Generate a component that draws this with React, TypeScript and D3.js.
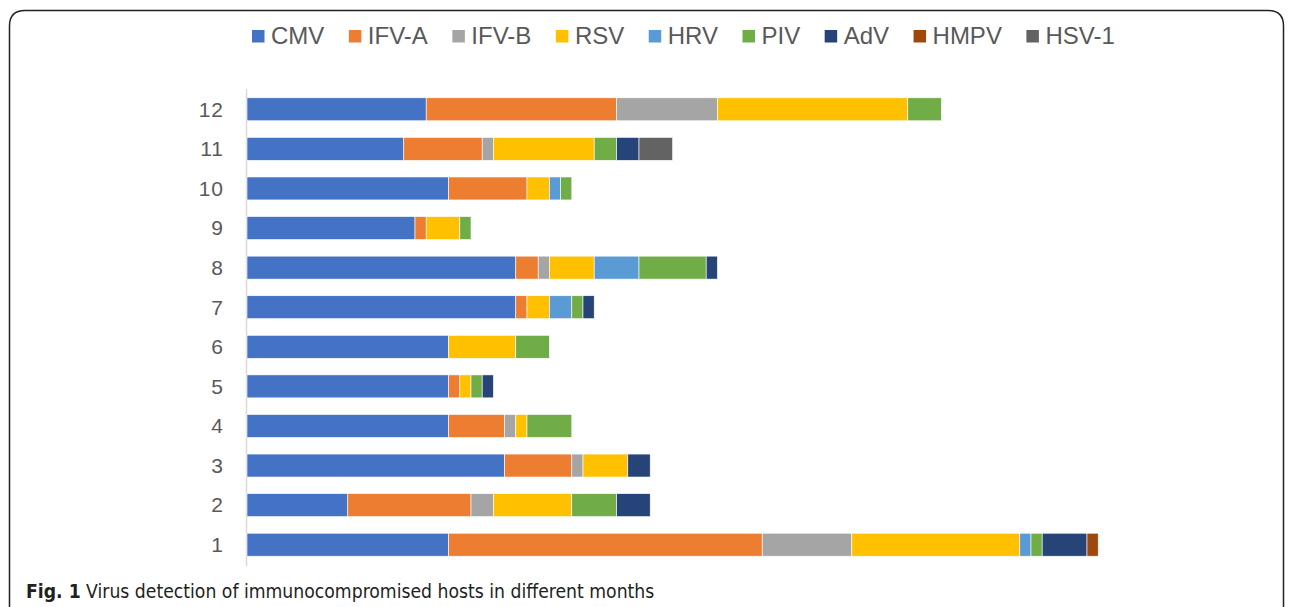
import React, { useEffect, useRef } from 'react';
import * as d3 from 'd3';

// months, bottom to top
const months = ['1', '2', '3', '4', '5', '6', '7', '8', '9', '10', '11', '12'];
const viruses = ['CMV', 'IFV-A', 'IFV-B', 'RSV', 'HRV', 'PIV', 'AdV', 'HMPV', 'HSV-1'];
const colors = ['#4472c4', '#ed7d31', '#a5a5a5', '#ffc000', '#5b9bd5', '#70ad47', '#264478', '#9e480e', '#636363'];

// counts per month, one array per virus
const CMV = [18, 9, 23, 18, 18, 18, 24, 24, 15, 18, 14, 16];
const IFVA = [28, 11, 6, 5, 1, 0, 1, 2, 1, 7, 7, 17];
const IFVB = [8, 2, 1, 1, 0, 0, 0, 1, 0, 0, 1, 9];
const RSV = [15, 7, 4, 1, 1, 6, 2, 4, 3, 2, 9, 17];
const HRV = [1, 0, 0, 0, 0, 0, 2, 4, 0, 1, 0, 0];
const PIV = [1, 4, 0, 4, 1, 3, 1, 6, 1, 1, 2, 3];
const AdV = [4, 3, 2, 0, 1, 0, 1, 1, 0, 0, 2, 0];
const HMPV = [1, 0, 0, 0, 0, 0, 0, 0, 0, 0, 0, 0];
const HSV1 = [0, 0, 0, 0, 0, 0, 0, 0, 0, 0, 3, 0];

const series = [CMV, IFVA, IFVB, RSV, HRV, PIV, AdV, HMPV, HSV1];

const W = 1292;
const H = 607;

export default function App() {
  const ref = useRef<SVGSVGElement>(null);

  useEffect(() => {
    const svg = d3.select(ref.current);
    svg.selectAll('*').remove();

    // frame with rounded top corners
    svg.append('path')
      .attr('d', 'M9.5,620 L9.5,26 Q9.5,10.5 25,10.5 L1268,10.5 Q1283.5,10.5 1283.5,26 L1283.5,620')
      .attr('fill', 'none')
      .attr('stroke', '#222')
      .attr('stroke-width', 1.5);

    const rows = months.map((m, i) => {
      const r: any = { month: m };
      viruses.forEach((v, j) => { r[v] = series[j][i]; });
      return r;
    });

    const stacked = d3.stack().keys(viruses)(rows);

    const x = d3.scaleLinear().domain([0, 80]).range([247, 1143]);
    const y = d3.scaleBand()
      .domain(months.slice().reverse())
      .range([89.5, 564.5])
      .paddingInner(0.42)
      .paddingOuter(0.21);

    // y axis line
    svg.append('line')
      .attr('x1', 246.5).attr('x2', 246.5)
      .attr('y1', 89).attr('y2', 566)
      .attr('stroke', '#d9d9d9')
      .attr('stroke-width', 1.5);

    svg.append('g')
      .selectAll('g')
      .data(stacked)
      .enter()
      .append('g')
      .attr('fill', (d, i) => colors[i])
      .selectAll('rect')
      .data(d => d)
      .enter()
      .append('rect')
      .attr('x', d => x(d[0]))
      .attr('y', d => y(d.data.month as any)!)
      .attr('width', d => x(d[1]) - x(d[0]))
      .attr('height', y.bandwidth())
      .attr('stroke', d => (d[1] > d[0] ? '#ffffff' : 'none'))
      .attr('stroke-width', 0.6);

    // category labels
    svg.append('g')
      .selectAll('text')
      .data(months)
      .enter()
      .append('text')
      .attr('x', 224)
      .attr('y', d => y(d)! + y.bandwidth() / 2)
      .attr('dy', '0.35em')
      .attr('text-anchor', 'end')
      .attr('font-family', 'Liberation Sans, Arial, sans-serif')
      .attr('font-size', 21)
      .attr('letter-spacing', 1)
      .attr('fill', '#595959')
      .text(d => d);

    // legend
    const legend = svg.append('g').attr('font-family', 'Liberation Sans, Arial, sans-serif')
      .attr('font-size', 24).attr('fill', '#595959');
    const items = legend.selectAll('g').data(viruses).enter().append('g');
    items.append('rect')
      .attr('width', 12.5).attr('height', 12.5)
      .attr('y', 30)
      .attr('fill', (d, i) => colors[i]);
    items.append('text')
      .attr('x', 19)
      .attr('y', 36)
      .attr('dy', '0.35em')
      .text(d => d);
    let cx = 252;
    items.each(function () {
      const g = d3.select(this);
      g.attr('transform', `translate(${cx},0)`);
      const tw = (g.select('text').node() as SVGTextElement).getComputedTextLength();
      cx += 19 + tw + 24.5;
    });

    // caption
    const cap = svg.append('text')
      .attr('x', 26)
      .attr('y', 598)
      .attr('font-family', 'Liberation Sans Narrow, DejaVu Sans Condensed, sans-serif')
      .attr('font-size', 19.2)
      .attr('fill', '#231f20');
    cap.append('tspan').attr('font-weight', 'bold').text('Fig. 1');
    cap.append('tspan').text(' Virus detection of immunocompromised hosts in different months');
  }, []);

  return (
    <svg ref={ref} width={W} height={H} style={{ position: 'absolute', left: 0, top: 0, background: '#fff' }} />
  );
}
